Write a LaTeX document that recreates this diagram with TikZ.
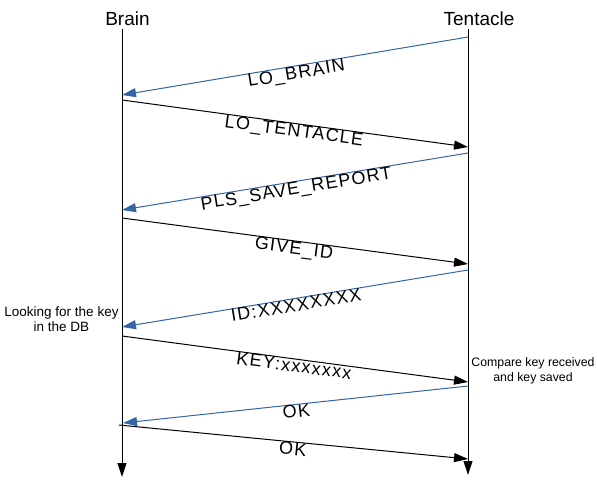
\documentclass[tikz,border=0pt]{standalone}
\usepackage{fontspec}
\setmainfont{Liberation Sans}
\usetikzlibrary{arrows.meta}
\definecolor{msgblue}{HTML}{3465A4}
\begin{document}
\begin{tikzpicture}[x=1pt,y=-1pt,
  tip/.style={-{Triangle[length=14pt,width=9pt]}},
  life/.style={line width=1pt, black, tip},
  msgb/.style={line width=1pt, msgblue, tip},
  msgk/.style={line width=1pt, black, tip},
  lbl/.style={font=\fontsize{18}{20}\selectfont\addfontfeatures{LetterSpace=7}, text=black, inner sep=0pt, midway, sloped, below=0pt},
  hdr/.style={font=\fontsize{19}{22}\selectfont, anchor=base, inner sep=0pt},
  note/.style={align=center, inner sep=0pt, anchor=base}]
\useasboundingbox (0,0) rectangle (597,484);
\node[hdr] (brain) at (127.5,26) {Brain};
\node[hdr] (tent) at (479,26) {Tentacle};
\coordinate (b0) at (122,29); \coordinate (b1) at (122,477);
\coordinate (t0) at (468,29); \coordinate (t1) at (468,475);
\draw[life] (b0) -- (b1);
\draw[life] (t0) -- (t1);
\coordinate (m1s) at (468,37);  \coordinate (m1e) at (122,95);
\coordinate (m2s) at (122,100); \coordinate (m2e) at (468,147);
\coordinate (m3s) at (468,153); \coordinate (m3e) at (122,210);
\coordinate (m4s) at (122,218); \coordinate (m4e) at (468,264);
\coordinate (m5s) at (468,270); \coordinate (m5e) at (122,327);
\coordinate (m6s) at (122,336); \coordinate (m6e) at (468,382);
\coordinate (m7s) at (468,386); \coordinate (m7e) at (123,423);
\coordinate (m8s) at (119,425); \coordinate (m8e) at (468,459);
\draw[msgb] (m1s) -- node[lbl] (l1) {LO\_BRAIN} (m1e);
\draw[msgk] (m2s) -- node[lbl] (l2) {LO\_TENTACLE} (m2e);
\draw[msgb] (m3s) -- node[lbl] (l3) {PLS\_SAVE\_REPORT} (m3e);
\draw[msgk] (m4s) -- node[lbl] (l4) {GIVE\_ID} (m4e);
\draw[msgb] (m5s) -- node[lbl] (l5) {ID:XXXXXXXX} (m5e);
\draw[msgk] (m6s) -- node[lbl] (l6) {KEY:xxxxxxx} (m6e);
\draw[msgb] (m7s) -- node[lbl] (l7) {OK} (m7e);
\draw[msgk] (m8s) -- node[lbl] (l8) {OK} (m8e);
\node[note, font=\fontsize{13.5}{15}\selectfont] (look) at (61.5,331) {Looking for the key\\in the DB};
\node[note, font=\fontsize{12.3}{15}\selectfont] (cmp) at (533,381) {Compare key received\\and key saved};
\end{tikzpicture}
\end{document}
